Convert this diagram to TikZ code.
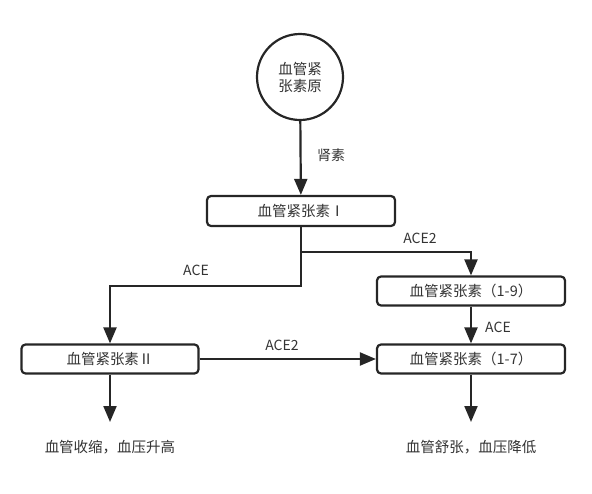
\documentclass[tikz,border=0pt]{standalone}
\usepackage{fontspec}
\setmainfont{Noto Sans CJK SC}
\usetikzlibrary{arrows.meta}
\definecolor{ln}{HTML}{262626}
\definecolor{tx}{HTML}{333333}
\tikzset{
  x=1pt,y=-1pt,
  box/.style={draw=ln,line width=2.2pt,rounded corners=4pt,minimum width=188pt,minimum height=30pt,inner sep=0pt,font=\fontsize{14.5}{16}\selectfont,text=tx},
  circ/.style={draw=ln,line width=2.2pt,circle,minimum size=86pt,inner sep=0pt,align=center,font=\fontsize{14.5}{17}\selectfont,text=tx},
  arr/.style={draw=ln,line width=2.2pt,-{Triangle[length=16pt,width=13pt]}},
  lbl/.style={font=\fontsize{14}{16}\selectfont,text=tx,inner sep=1pt},
  res/.style={font=\fontsize{14.5}{16}\selectfont,text=tx,inner sep=0pt}
}
\begin{document}
\begin{tikzpicture}
\useasboundingbox (0,0) rectangle (592,493);
\node[circ] (ang) at (300,77) {血管紧\\张素原};
\node[box] (a1) at (301,211) {血管紧张素Ⅰ};
\node[box,minimum width=188pt,minimum height=29pt] (a19) at (471,291) {血管紧张素（1-9）};
\node[box,minimum width=188pt,minimum height=29pt] (a17) at (471,359) {血管紧张素（1-7）};
\node[box,minimum width=177pt,minimum height=29pt] (a2) at (110,359) {血管紧张素Ⅱ};
\node[res] (r1) at (110,447) {血管收缩，血压升高};
\node[res] (r2) at (471,447) {血管舒张，血压降低};
\coordinate (e1) at (110,422);
\coordinate (e2) at (471,422);
\coordinate (j1) at (301,252);
\coordinate (j2) at (301,286);
\draw[arr] (ang) -- (a1);
\node[lbl] at (331,155) {肾素};
\draw[arr] (a1.south) -- (j2) -| (a2.north);
\node[lbl] at (196,270) {ACE};
\draw[arr] (j1) -| (a19.north);
\node[lbl] at (420,238) {ACE2};
\draw[arr] (a19) -- (a17);
\node[lbl] at (498,327) {ACE};
\draw[arr] (a2) -- (a17);
\node[lbl] at (282,345) {ACE2};
\draw[arr] (a2) -- (e1);
\draw[arr] (a17) -- (e2);
\end{tikzpicture}
\end{document}
